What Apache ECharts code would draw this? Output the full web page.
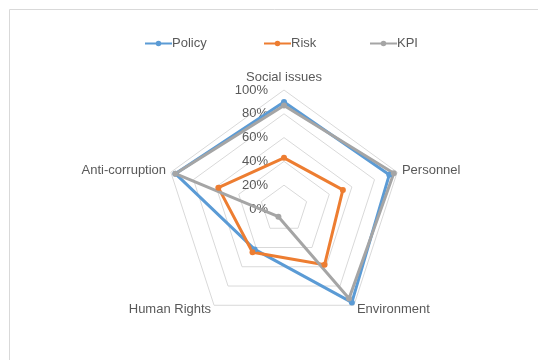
<!DOCTYPE html>
<html>
<head>
<meta charset="utf-8">
<script src="https://cdn.jsdelivr.net/npm/echarts@6/dist/echarts.min.js"></script>
<style>
  html, body { margin: 0; padding: 0; background: #ffffff; }
  #chart { width: 538px; height: 360px; }
</style>
</head>
<body>
<div id="chart"></div>
<script>
// Dimensions, listed clockwise from the top
const categories = ['Social issues', 'Personnel', 'Environment', 'Human Rights', 'Anti-corruption'];
// Scores in percent, same order as categories
const policy = [90, 93, 97, 42, 96];
const risk   = [43, 52, 58, 45, 58];
const kpi    = [87, 97, 93, 8, 96];
const seriesNames = ['Policy', 'Risk', 'KPI'];
const tickValues = [0, 20, 40, 60, 80, 100];

const colors = ['#5B9BD5', '#ED7D31', '#A5A5A5'];
const textColor = '#595959';
const font = 'Liberation Sans';

// The radar lays indicators out counter-clockwise, so keep the first one
// at the top and reverse the rest to get a clockwise reading order.
const order = [0].concat(categories.slice(1).map((_, i) => categories.length - 1 - i));
const reorder = arr => order.map(i => arr[i]);

const tickMin = tickValues[0];
const tickMax = tickValues[tickValues.length - 1];
const tickStep = tickValues[1] - tickValues[0];

const indicator = reorder(categories).map((name, i) => ({
  name: name,
  min: tickMin,
  max: tickMax,
  // only the vertical axis carries tick labels
  axisLabel: { show: i === 0 }
}));

// line-with-dot legend marker
const legendIcon = 'path://M0,3.1L27,3.1L27,4.9L0,4.9Z M13.5,1.2A2.8,2.8 0 1 1 13.5,6.8A2.8,2.8 0 1 1 13.5,1.2Z';
const legendLeft = [145, 264, 370];

const legends = seriesNames.map((n, i) => ({
  data: [{ name: n, icon: legendIcon }],
  left: legendLeft[i],
  top: 37,
  padding: 0,
  itemWidth: 27,
  itemHeight: 8,
  selectedMode: false,
  textStyle: { color: textColor, fontSize: 13, fontFamily: font, padding: [0, 0, 0, -5] }
}));

const chart = echarts.init(document.getElementById('chart'), null, { renderer: 'canvas' });
chart.setOption({
  animation: false,
  color: colors,
  textStyle: { fontFamily: font },
  graphic: [{
    type: 'rect',
    shape: { x: 9.5, y: 9.5, width: 600, height: 400 },
    style: { fill: 'none', stroke: '#D9D9D9', lineWidth: 1 },
    silent: true
  }],
  legend: legends,
  radar: {
    center: [284, 209],
    radius: 119,
    startAngle: 90,
    shape: 'polygon',
    splitNumber: (tickMax - tickMin) / tickStep,
    indicator: indicator,
    axisName: { color: textColor, fontSize: 13, fontFamily: font },
    nameGap: 5,
    axisLine: { show: false },
    axisTick: { show: false },
    axisLabel: {
      show: true,
      color: textColor,
      fontSize: 13,
      fontFamily: font,
      margin: 16,
      padding: [4, 0, 0, 0],
      formatter: v => v + '%'
    },
    splitLine: { lineStyle: { color: '#D9D9D9', width: 1 } },
    splitArea: { show: false }
  },
  series: [{
    type: 'radar',
    symbol: 'circle',
    symbolSize: 6,
    lineStyle: { width: 3 },
    data: [
      { name: seriesNames[0], value: reorder(policy), itemStyle: { color: colors[0] }, lineStyle: { color: colors[0] } },
      { name: seriesNames[1], value: reorder(risk),   itemStyle: { color: colors[1] }, lineStyle: { color: colors[1] } },
      { name: seriesNames[2], value: reorder(kpi),    itemStyle: { color: colors[2] }, lineStyle: { color: colors[2] } }
    ]
  }]
});
</script>
</body>
</html>
